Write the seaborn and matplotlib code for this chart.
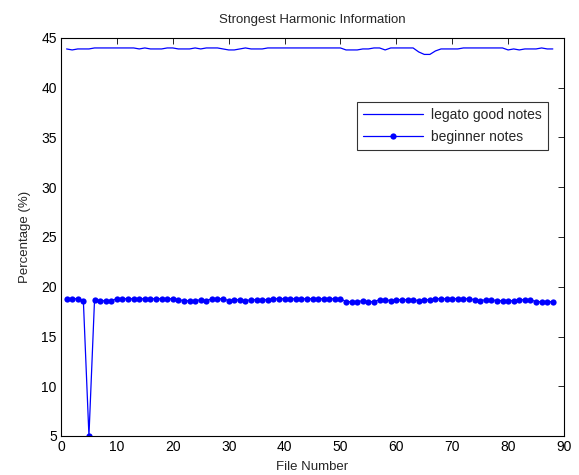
import numpy as np
import pandas as pd
import seaborn as sns
import matplotlib
matplotlib.use("Agg")
import matplotlib.pyplot as plt

file_numbers = list(range(1, 89))

legato_good = [
    43.9, 43.8, 43.9, 43.9, 43.9, 44.0, 44.0, 44.0, 44.0, 44.0,
    44.0, 44.0, 44.0, 43.9, 44.0, 43.9, 43.9, 43.9, 44.0, 44.0,
    43.9, 43.9, 43.9, 44.0, 43.9, 44.0, 44.0, 44.0, 43.9, 43.8,
    43.8, 43.9, 44.0, 43.9, 43.9, 43.9, 44.0, 44.0, 44.0, 44.0,
    44.0, 44.0, 44.0, 44.0, 44.0, 44.0, 44.0, 44.0, 44.0, 44.0,
    43.8, 43.8, 43.8, 43.9, 43.9, 44.0, 44.0, 43.8, 44.0, 44.0,
    44.0, 44.0, 44.0, 43.6, 43.35, 43.35, 43.7, 43.9, 43.9, 43.9,
    43.9, 44.0, 44.0, 44.0, 44.0, 44.0, 44.0, 44.0, 44.0, 43.8,
    43.9, 43.8, 43.9, 43.9, 43.9, 44.0, 43.9, 43.9,
]

beginner = [
    18.8, 18.8, 18.8, 18.6, 5.0, 18.7, 18.6, 18.6, 18.6, 18.8,
    18.8, 18.8, 18.8, 18.8, 18.8, 18.8, 18.8, 18.8, 18.8, 18.8,
    18.7, 18.6, 18.6, 18.6, 18.7, 18.6, 18.8, 18.8, 18.8, 18.6,
    18.7, 18.7, 18.6, 18.7, 18.7, 18.7, 18.7, 18.8, 18.8, 18.8,
    18.8, 18.8, 18.8, 18.8, 18.8, 18.8, 18.8, 18.8, 18.8, 18.8,
    18.5, 18.5, 18.5, 18.6, 18.5, 18.5, 18.7, 18.7, 18.6, 18.7,
    18.7, 18.7, 18.7, 18.6, 18.7, 18.7, 18.8, 18.8, 18.8, 18.8,
    18.8, 18.8, 18.8, 18.7, 18.6, 18.7, 18.7, 18.6, 18.6, 18.6,
    18.6, 18.7, 18.7, 18.7, 18.5, 18.5, 18.5, 18.5,
]

x_ticks = [0, 10, 20, 30, 40, 50, 60, 70, 80, 90]
y_ticks = [5, 10, 15, 20, 25, 30, 35, 40, 45]

sns.set_style("white")
plt.rcParams["font.family"] = ["Liberation Sans", "DejaVu Sans"]

fig = plt.figure(figsize=(5.79, 4.75), dpi=100)
ax = fig.add_axes([61 / 579, 1 - 436 / 475, (564 - 61) / 579, (436 - 38) / 475])

df_good = pd.DataFrame({"file": file_numbers, "pct": legato_good})
df_beg = pd.DataFrame({"file": file_numbers, "pct": beginner})

sns.lineplot(data=df_good, x="file", y="pct", ax=ax, color="#0000ff",
             linewidth=0.9, label="legato good notes")
sns.lineplot(data=df_beg, x="file", y="pct", ax=ax, color="#0000ff",
             linewidth=0.9, marker="o", markersize=4.5, markeredgewidth=0,
             label="beginner notes")

ax.set_xlim(0, 90)
ax.set_ylim(5, 45)
ax.set_xticks(x_ticks)
ax.set_yticks(y_ticks)
ax.tick_params(direction="in", length=4, width=0.6, labelsize=10,
               top=True, right=True, colors="black", pad=3)
for s in ax.spines.values():
    s.set_visible(True)
    s.set_color("black")
    s.set_linewidth(0.8)

ax.set_title("Strongest Harmonic Information", fontsize=9.5, pad=11)
ax.set_xlabel("File Number", fontsize=9.5, labelpad=5)
ax.set_ylabel("Percentage (%)", fontsize=9.5, labelpad=7)

leg = ax.legend(loc="upper right", bbox_to_anchor=(0.968, 0.84),
                fontsize=10, frameon=True, fancybox=False, borderpad=0.45,
                handlelength=4.3, handletextpad=0.6, labelspacing=0.55,
                borderaxespad=0)
leg.get_frame().set_edgecolor("black")
leg.get_frame().set_linewidth(0.8)

fig.savefig("out.png", dpi=100, facecolor="white")
